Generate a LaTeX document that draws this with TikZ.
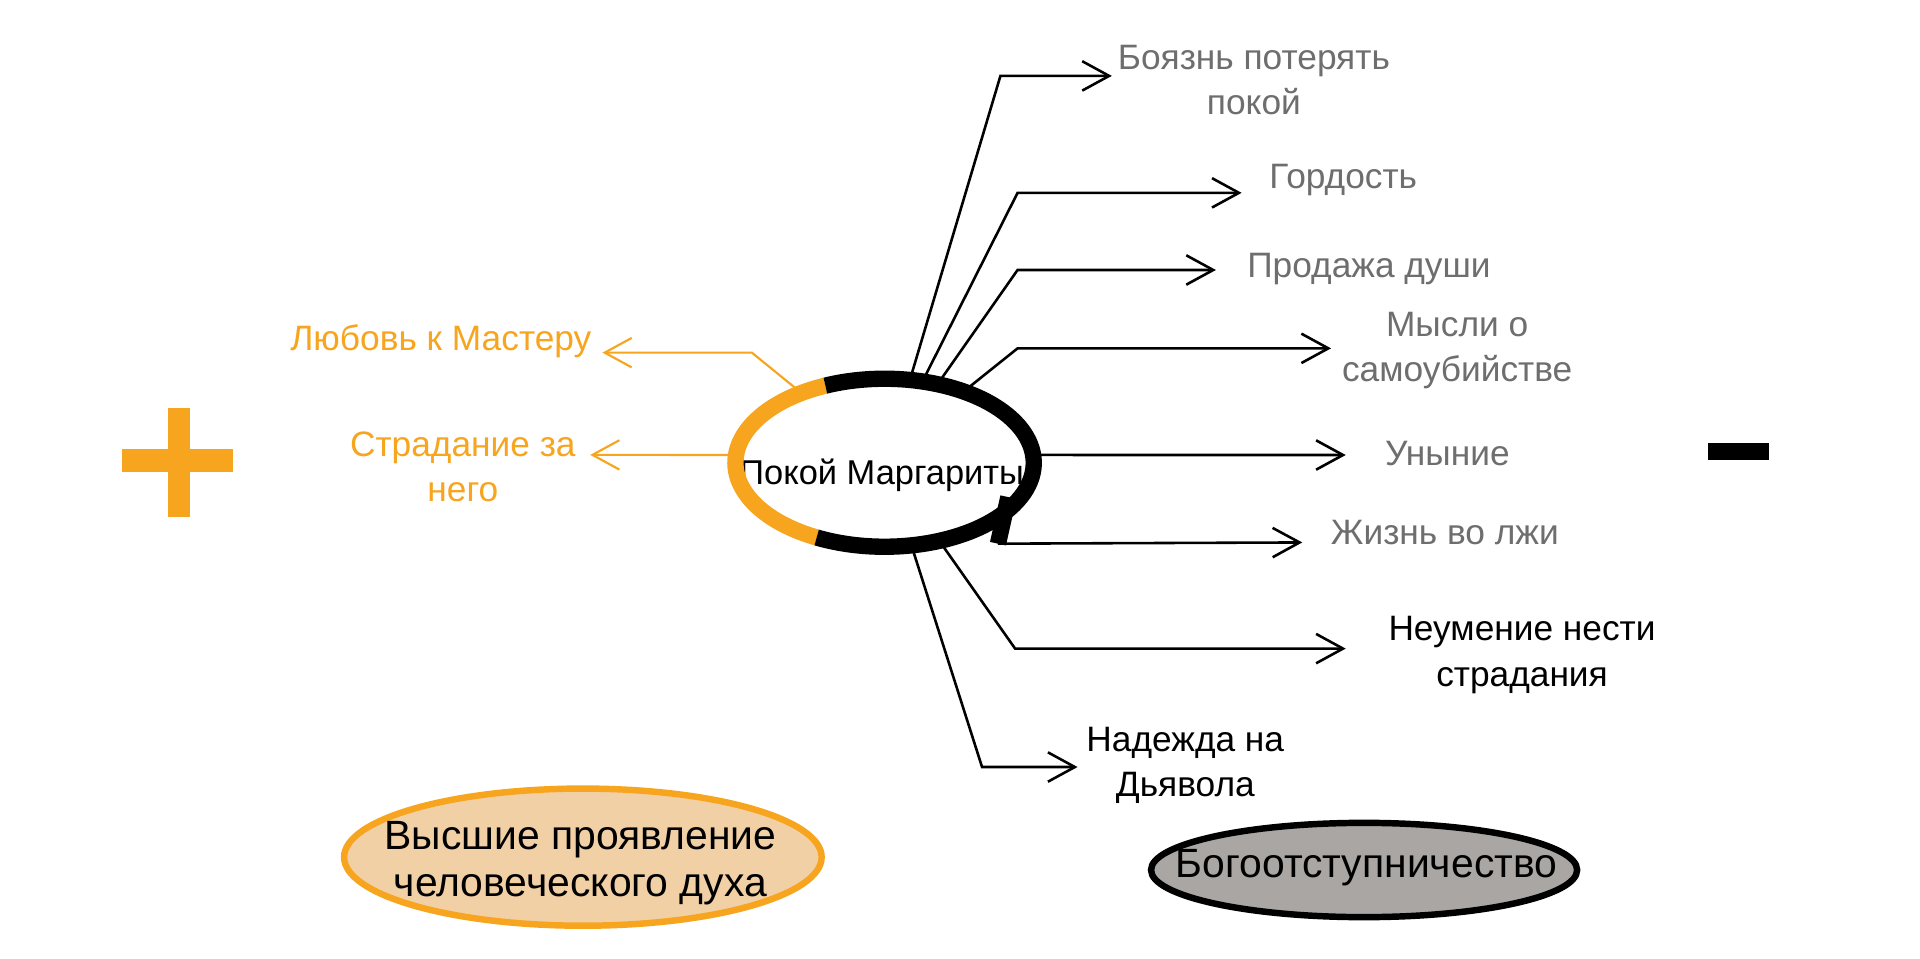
\documentclass[tikz,border=0pt]{standalone}
\usepackage{fontspec}
\setmainfont{Liberation Sans}
\usepackage{xcolor}
\usetikzlibrary{arrows.meta, positioning, shapes.geometric}
\definecolor{mgorange}{HTML}{F7A51E}
\definecolor{mgpeach}{HTML}{F2D0A6}
\definecolor{mggray}{HTML}{6E6E6E}
\definecolor{mgstone}{HTML}{A9A6A3}

\begin{document}
\begin{tikzpicture}[
  every node/.style={font=\fontsize{8.2}{10.5}\selectfont},
  vicetext/.style={text=mggray, align=center, inner sep=0pt},
  sintext/.style={text=black, align=center, inner sep=0pt},
  virtuetext/.style={text=mgorange, align=center, inner sep=0pt},
  vicelink/.style={-{Straight Barb[length=2.2mm, width=2.4mm]}, black, line width=0.6pt},
  virtuelink/.style={-{Straight Barb[length=2.2mm, width=2.4mm]}, mgorange, line width=0.5pt},
  ring/.style={line width=3.8pt, line cap=butt},
  oval/.style={ellipse, inner sep=0pt, outer sep=0pt, line width=1.5pt},
  ovaltext/.style={font=\fontsize{9.5}{11.1}\selectfont, align=center, inner sep=0pt},
]
\useasboundingbox (0,0) rectangle (15.68,-7.83);

% Centre: Margarita's calm
\node[ellipse, minimum width=2.436cm, minimum height=1.372cm, inner sep=0pt, outer sep=0pt] (calm) at (7.224,-3.779) {};

% Right side: what breaks the calm
\node[vicetext] (fear) at (10.24,-0.655) {Боязнь потерять\\покой};
\node[vicetext] (pride) at (10.97,-1.47) {Гордость};
\node[vicetext] (sale) at (11.18,-2.20) {Продажа души};
\node[vicetext] (suicide) at (11.90,-2.86) {Мысли о\\самоубийстве};
\node[vicetext] (gloom) at (11.82,-3.70) {Уныние};
\node[vicetext] (lie) at (11.80,-4.35) {Жизнь во лжи};
\node[sintext] (inability) at (12.43,-5.35) {Неумение нести\\страдания};
\node[sintext] (hope) at (9.68,-6.25) {Надежда на\\Дьявола};

\coordinate (tipFear) at (9.08,-0.62);
\coordinate (tipPride) at (10.14,-1.575);
\coordinate (tipSale) at (9.93,-2.205);
\coordinate (tipSuicide) at (10.87,-2.845);
\coordinate (tipGloom) at (10.99,-3.716);
\coordinate (hookEnd) at (8.15,-4.44);
\coordinate (tipLie) at (10.635,-4.43);
\coordinate (tipInability) at (10.99,-5.297);
\coordinate (tipHope) at (8.80,-6.264);

\draw[vicelink] (calm.73) -- (8.17,-0.62) -- (tipFear);
\draw[vicelink] (calm.65) -- (8.31,-1.575) -- (tipPride);
\draw[vicelink] (calm.56) -- (8.31,-2.205) -- (tipSale);
\draw[vicelink] (calm.42) -- (8.31,-2.845) -- (tipSuicide);
\draw[vicelink] (calm.3) -- (tipGloom);
\draw[vicelink] (hookEnd) -- (tipLie);
\draw[vicelink] (calm.305) -- (8.29,-5.297) -- (tipInability);
\draw[vicelink] (calm.288) -- (8.02,-6.264) -- (tipHope);

% Left side: what keeps it
\node[virtuetext] (love) at (3.60,-2.79) {Любовь к Мастеру};
\node[virtuetext] (suffer) at (3.78,-3.81) {Страдание за\\него};

\coordinate (tipLove) at (4.92,-2.88);
\coordinate (tipSuffer) at (4.82,-3.715);

\draw[virtuelink] (calm.140) -- (6.14,-2.88) -- (tipLove);
\draw[virtuelink] (calm.177) -- (tipSuffer);

% Ring over the text
\node[font=\fontsize{8}{10}\selectfont, inner sep=0pt] (calmtext) at (7.20,-3.88) {Покой Маргариты};
\draw[ring, mgorange] (calm.center) ++(113.4:1.218 and 0.686) arc[start angle=113.4, end angle=242.9, x radius=1.218, y radius=0.686];
\draw[ring, black] (calm.center) ++(242.9:1.218 and 0.686) arc[start angle=242.9, end angle=473.4, x radius=1.218, y radius=0.686];
\draw[ring, black] (8.235,-4.06) -- (hookEnd);

% Plus and minus
\fill[mgorange] (1.00,-3.665) rectangle (1.90,-3.855);
\fill[mgorange] (1.37,-3.33) rectangle (1.55,-4.22);
\fill[black] (13.95,-3.62) rectangle (14.45,-3.76);

% Bottom ovals
\node[oval, draw=mgorange, fill=mgpeach, minimum width=3.90cm, minimum height=1.12cm] (highest) at (4.76,-7.00) {};
\node[ovaltext] (highesttext) at (4.74,-7.05) {Высшие проявление\\человеческого духа};
\node[oval, draw=black, fill=mgstone, minimum width=3.48cm, minimum height=0.77cm] (apostasy) at (11.14,-7.105) {};
\node[ovaltext] (apostasytext) at (11.16,-7.09) {Богоотступничество};

\end{tikzpicture}
\end{document}
